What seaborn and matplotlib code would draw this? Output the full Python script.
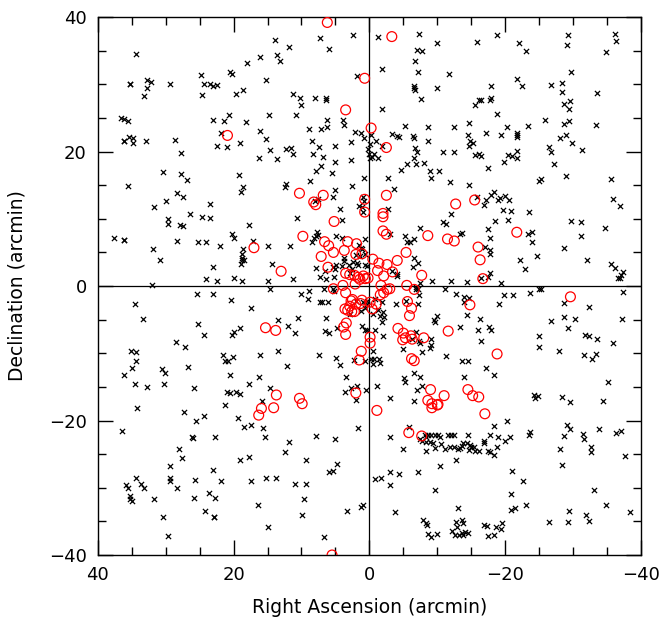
import numpy as np
import pandas as pd
import matplotlib
matplotlib.use("Agg")
import matplotlib.pyplot as plt
import seaborn as sns
from matplotlib.ticker import MultipleLocator

# Field objects (black crosses): RA offset, Dec offset in arcmin
field_ra = [
    13.9, 34.4, 13.6, 13.2, 18.0, 16.1, 20.5, 20.2, 24.8, 15.3, 35.3, 35.2, 32.7, 32.2, 29.3, 24.4,
    23.4, 23.0, 22.5, 32.7, 33.2, 24.7, 19.6, 18.6, 14.8, 36.6, 36.1, 35.6, 23.0, 21.4, 20.7, 18.2,
    16.1, 21.9, 35.4, 34.8, 34.8, 36.2, 36.1, 32.9, 28.6, 15.2, 22.4, 21.0, 19.1, 14.7, 27.8, 16.3,
    13.6, 30.4, 27.8, 26.8, 19.2, 35.5, 18.6, 18.9, 28.3, 27.5, 29.9,
    2.4, -1.3, -7.3, 7.3, 11.9, 6.0, -10.0, -7.0, -7.7, -6.7, -7.1, -1.8, -11.7, 1.8, -6.6, -6.7,
    -6.5, -10.0, -7.6, 11.3, 10.2, 10.1, 8.0, 6.4, 6.4, -1.9, 10.8, 6.2, 3.9, 3.8, 8.9, 7.1,
    6.3, 2.1, 1.2, 0.8, -0.3, -3.3, -4.0, -4.3, -5.2, -8.6, -12.5, -6.4, -6.5, -8.6, 8.5, 2.7,
    -1.0, -1.8, -0.15, 0.15, 0.05, -0.35, -0.05, -1.2, -0.7, 12.3, 11.5, 11.3, 7.4, 5.1, 8.3, 6.9,
    5.0, 2.7, -6.7, -7.0, -6.6, -10.9, -12.5, -5.6, -6.9, -8.0, 7.1, 7.8, 5.5, -4.6, -8.9, -10.2,
    -9.1, -2.7, 0.8, -11.8, 12.3, 12.4, 8.7, 2.6, -3.6, 5.0, 7.6, 8.0, 5.4, 0.8, 1.0,
    -18.8, -15.9, -22.1, -23.1, -29.3, -29.1, -36.1, -36.3, -34.8, -29.7, -21.8, -22.5, -17.9, -26.7,
    -28.3, -28.4, -33.5, -17.9, -17.7, -16.4, -16.1, -15.5, -29.6, -28.6, -29.4, -18.8, -25.8, -14.7,
    -20.2, -23.4, -28.6, -29.4, -33.4, -14.5, -17.2, -19.4, -21.7, -21.8, -21.7, -14.8, -15.2, -14.6,
    -28.9, -28.1, -29.9, -31.3, -26.4, -26.8, -15.5, -16.2, -16.5, -20.4, -21.0, -21.7, -21.8, -19.8,
    -17.5, -27.2, -29.0, -24.9, -25.2, -35.6, -14.6, -35.8, -15.8, -17.2, -17.9, -18.3, -18.9, -19.2,
    -20.0, -20.5,
    31.7, 23.5, 29.6, 29.7, 27.9, 27.4, 26.4, 24.6, 23.5, 17.7, 37.6, 36.1, 36.2, 31.8, 30.8, 28.3,
    25.3, 24.0, 22.0, 20.3, 19.9, 18.6, 18.7, 18.7, 18.9, 18.4, 18.8, 17.1, 15.0, 14.4, 23.0, 24.0,
    22.4, 19.9, 18.7, 14.9, 14.7, 32.0, 25.4, 23.0, 20.4, 17.5, 34.5, 33.4, 25.3, 24.4, 20.0, 20.2,
    19.1, 13.5, 28.5, 27.2, 35.1, 34.4, 34.3, 35.0, 36.2, 30.5, 30.1, 26.7, 21.6, 21.3, 20.8, 20.1,
    20.6, 16.1, 16.3, 13.4,
    1.6, 1.1, 1.0, 4.3, -2.8, 10.6, 4.1, -12.0, -10.8, -11.3, -7.5, 7.7, 7.9, 8.2, 7.6, 4.9,
    8.5, 11.7, 4.0, 0.6, -3.1, -5.2, -5.5, -6.0, -6.5, 1.5, 1.3, 1.1, 0.7, 1.4, 2.0, 3.8,
    3.7, 4.9, 4.1, 3.0, 2.4, 1.9, 1.7, 0.7, 0.4, 7.8, 5.4, 5.1, 6.6, 2.6, 2.8, 7.3,
    6.4, 5.2, 11.2, -6.6, -7.2, -4.0, -4.1, -3.4, -6.4, -9.2, -12.0, -6.8, -7.2, -7.3, -7.4, -6.8,
    -12.8, -11.2, 10.0, 8.9, 9.1, 6.7, 5.3, 5.2, 7.3, 7.0, 6.1, 2.0, 1.0, 0.7, 0.3, 0.4,
    -0.8, -1.8, -1.2, -3.9, -5.4, -7.2, 2.9, 1.3, -0.6, -1.5, -2.0, -2.2, -1.8, 6.4, 10.5, 12.0,
    -9.5, -10.0, -9.6, 4.8, 6.6, 5.9, 11.0, 1.1, 0.7, 0.3, -0.8, -2.0, -6.8, -7.3, -7.5, -9.1,
    -9.1, -8.9, -6.3, -5.0, -7.7, -11.3, 7.4, 12.2, 4.9, 4.3, 2.3, -0.5, -0.2, -0.7, -1.4, -0.5,
    -1.5, 0.7, 3.4, -5.1, -6.6, -7.4,
    -16.8, -36.9, -19.7, -20.8, -23.5, -18.5, -20.4, -29.7, -31.2, -34.7, -31.1, -17.5, -17.8, -13.3,
    -13.6, -23.3, -23.9, -24.0, -17.0, -17.8, -17.8, -28.6, -24.7, -22.2, -22.9, -32.1, -35.6, -36.1,
    -37.4, -37.1, -36.6, -36.9, -17.7, -17.4, -16.4, -14.3, -19.4, -24.9, -25.2, -23.7, -19.8, -21.1,
    -14.0, -14.7, -14.0, -19.1, -28.6, -32.4, -37.3, -14.4, -16.3, -13.4, -26.7, -28.7, -30.3, -29.3,
    -37.2, -17.6, -17.9, -16.0, -16.4, -24.9, -24.9, -31.8, -32.4, -33.5, -35.9, -27.9, -31.6, -33.3,
    -32.8, -13.6, -14.5, -17.2, -18.3, -13.9,
    17.7, 34.5, 32.8, 30.3, 25.9, 14.6, 20.9, 20.6, 19.7, 19.0, 15.8, 21.3, 34.2, 27.3, 24.4, 25.5,
    19.3, 18.4, 17.5, 15.6, 15.4, 36.5, 26.0, 26.1, 22.7, 28.0, 27.6, 19.0, 17.8, 29.3, 23.0, 35.8,
    35.6, 34.4, 33.6, 33.2, 35.3, 35.2, 35.0, 31.7, 29.3, 29.3, 28.4, 25.7, 25.9, 21.9, 23.6, 22.7,
    24.2, 22.9, 22.9, 17.4, 15.3, 13.8, 16.4, 15.0, 30.4, 29.6,
    -5.3, 2.7, 1.9, 3.6, 0.5, 2.0, -1.1, -3.1, -7.7, -7.0, -6.6, -5.9, 1.7, 7.9, 5.0, 11.8,
    12.5, 9.3, 4.7, 6.0, 5.3, 10.9, 9.3, 9.6, 9.9, 6.7, 3.3, 1.2, 1.0, -3.1, -3.1, -3.0,
    -1.7, -0.8, -4.4, -7.1, -4.9, -3.7, -9.7,
    -7.4, -7.8, -8.2, -8.4, -8.6, -9.1, -9.7, -10.1, -10.4, -8.4, -8.9, -9.4, -9.7, -10.5, -8.4, -11.1,
    -11.6, -12.0, -12.4, -11.9, -12.5, -13.1, -10.4, -12.8, -13.1, -7.9, -8.3, -8.5, -8.6, -9.0, -9.9,
    -12.1, -12.7, -12.9, -12.6, -13.2,
    -35.2, -24.3, -24.8, -24.4, -28.4, -29.5, -34.4, -20.2, -18.3, -14.5, -17.8, -19.0, -20.7, -19.9,
    -23.6, -23.5, -29.1, -29.6, -28.7, -31.5, -31.6, -33.8, -36.3, -37.1, -13.3, -13.8, -13.6, -14.3,
    -14.8, -15.0, -15.4, -15.6, -16.1, -16.8, -16.9, -17.4, -17.8, -18.4, -18.8, -14.6, -28.1, -28.3,
    -32.6, -32.7, -37.6, -21.0, -22.6, -20.8, -33.0, -20.8, -21.5, -23.1, -29.4, -34.9, -38.4, -31.9,
    -32.4, -26.4, -29.2, -13.6, -13.8, -13.6, -14.1, -14.5, -13.8, -16.9, -17.3, -17.5, -18.3, -18.6,
    -19.4, -19.5,
]
field_dec = [
    36.6, 34.5, 34.3, 33.5, 33.2, 34.0, 31.8, 31.5, 31.4, 30.7, 30.1, 30.1, 30.6, 30.4, 30.1, 30.1,
    30.1, 29.8, 29.9, 29.4, 28.2, 28.4, 28.5, 29.1, 25.5, 25.0, 24.8, 24.6, 24.7, 24.6, 25.4, 24.4,
    23.1, 22.7, 22.2, 22.0, 21.3, 21.6, 21.6, 21.6, 21.7, 21.8, 20.9, 20.7, 21.3, 20.3, 19.8, 19.1,
    18.9, 16.9, 16.6, 15.8, 16.5, 14.9, 14.8, 14.0, 13.8, 13.2, 12.7,
    37.3, 37.0, 37.5, 36.9, 35.6, 35.3, 36.2, 35.1, 35.0, 33.5, 31.8, 32.3, 31.5, 31.2, 29.7, 29.2,
    29.4, 29.4, 27.8, 28.6, 27.9, 26.9, 27.9, 28.0, 27.6, 26.4, 25.5, 24.7, 24.7, 23.9, 23.4, 23.4,
    23.6, 22.9, 22.7, 22.0, 22.4, 22.6, 22.3, 22.1, 23.8, 23.7, 23.7, 22.3, 22.0, 21.6, 21.6, 21.4,
    21.5, 20.9, 21.1, 20.4, 19.7, 19.2, 19.1, 19.1, 19.7, 20.4, 20.6, 19.7, 20.7, 20.9, 19.6, 19.2,
    18.4, 18.7, 20.5, 20.0, 19.1, 20.0, 19.9, 18.1, 18.1, 18.3, 17.9, 17.1, 16.8, 17.3, 17.1, 17.1,
    16.0, 16.1, 16.1, 15.5, 15.2, 14.7, 15.6, 14.9, 14.5, 14.3, 13.0, 12.7, 13.2, 12.6, 13.2,
    37.3, 36.3, 36.1, 35.0, 37.3, 35.9, 37.5, 36.4, 34.8, 31.8, 30.8, 29.8, 29.8, 29.9,
    30.2, 28.8, 28.7, 28.0, 27.6, 27.6, 27.6, 26.9, 27.5, 27.0, 26.4, 25.6, 24.7, 24.3,
    23.6, 23.8, 24.1, 24.5, 23.9, 22.5, 22.7, 22.5, 22.8, 22.5, 22.1, 21.6, 21.3, 20.8,
    22.5, 22.0, 21.2, 20.3, 20.7, 19.9, 19.5, 19.6, 19.4, 19.5, 19.3, 19.1, 20.1, 18.4,
    17.6, 18.2, 16.4, 15.6, 15.9, 15.9, 15.1, 13.0, 13.3, 12.8, 13.5, 14.0, 12.8, 13.1,
    13.4, 12.8,
    11.8, 12.2, 10.0, 9.3, 9.1, 9.0, 10.7, 10.2, 10.1, 9.1, 7.1, 6.8, 6.9, 5.5, 3.8, 6.7,
    6.6, 6.6, 6.0, 7.8, 7.2, 5.5, 4.8, 4.1, 3.3, 3.8, 3.9, 6.7, 5.9, 3.3, 2.8, 1.0,
    0.7, 1.2, 0.8, 0.8, -0.5, 0.1, -1.2, -1.2, -2.1, -3.3, -2.6, -4.9, -5.6, -7.3, -6.8, -7.3,
    -6.3, -5.0, -8.3, -9.0, -9.6, -9.8, -11.1, -12.2, -13.3, -12.4, -13.0, -12.1, -10.2, -11.2, -11.2, -10.6,
    -13.3, -10.3, -13.6, -9.7,
    11.9, 11.7, 11.0, 11.4, 11.5, 10.1, 9.8, 10.7, 9.5, 9.3, 8.7, 8.0, 7.4, 7.2, 7.6, 7.5,
    6.6, 6.0, 7.1, 7.0, 7.7, 7.5, 6.6, 6.5, 7.0, 6.1, 5.7, 5.5, 4.8, 4.5, 4.6, 4.2,
    3.7, 3.1, 3.0, 3.2, 3.6, 3.5, 3.2, 3.2, 3.0, 2.7, 2.9, 2.6, 2.2, 2.5, 2.0, 1.3,
    1.0, 1.4, 1.1, 4.1, 3.5, 1.8, 1.5, 2.3, 2.9, 0.7, 0.7, -0.5, -0.4, -1.3, 0.5, -0.2,
    -1.2, -0.5, -1.2, -0.7, -1.9, -0.5, -0.5, -0.8, -2.3, -2.3, -2.3, -2.2, -2.4, -3.2, -2.2, -2.7,
    -1.9, -2.4, -3.5, -2.6, -2.2, -2.7, -4.2, -3.7, -4.1, -4.4, -3.8, -4.6, -5.3, -4.7, -4.7, -6.0,
    -5.0, -4.5, -5.4, -6.3, -6.7, -7.0, -7.0, -6.0, -6.5, -6.5, -6.5, -7.4, -6.8, -8.1, -8.4, -7.9,
    -8.7, -9.2, -7.9, -9.4, -9.8, -10.4, -10.3, -11.9, -10.7, -11.7, -11.0, -9.6, -10.9, -10.9, -10.9, -11.6,
    -11.5, -11.2, -13.5, -13.7, -12.9, -13.5,
    12.1, 11.9, 11.3, 11.1, 11.0, 9.7, 9.8, 9.7, 9.5, 8.7, 7.4, 8.5, 7.1, 7.8,
    7.9, 7.7, 8.1, 6.5, 5.8, 5.4, 4.7, 5.7, 4.4, 3.9, 2.6, 3.9, 3.3, 2.7,
    2.1, 1.6, 1.2, 1.2, 2.0, 1.3, 1.2, 0.6, 0.5, -0.4, -0.4, -1.0, -1.3, -1.3,
    -1.7, -1.8, -2.3, -2.7, -2.5, -3.1, -0.9, -4.3, -4.95, -6.1, -5.2, -4.6, -4.9, -6.2,
    -4.95, -6.1, -6.5, -6.6, -8.2, -7.5, -9.1, -7.3, -7.5, -7.9, -8.5, -9.7, -10.3, -10.1,
    -10.9, -11.2, -11.2, -12.2, -13.2, -13.5,
    -14.5, -14.5, -15.0, -14.6, -15.2, -15.1, -15.8, -15.9, -15.7, -16.0, -17.1, -17.7, -18.2, -18.7, -19.3, -20.0,
    -19.6, -21.0, -20.6, -21.1, -22.5, -21.6, -22.6, -22.5, -22.4, -24.3, -25.6, -25.9, -25.4, -26.7, -27.3, -29.6,
    -30.0, -28.6, -29.5, -30.0, -31.3, -31.6, -31.9, -31.6, -28.5, -29.0, -30.0, -28.8, -31.5, -29.0, -30.8, -31.5,
    -33.5, -34.3, -34.4, -29.0, -28.6, -28.5, -32.6, -35.9, -34.4, -37.2,
    -14.3, -15.2, -14.8, -15.7, -15.4, -17.0, -14.9, -16.6, -14.9, -15.5, -17.1, -20.9, -21.1, -22.3, -22.7, -23.2,
    -24.7, -25.9, -26.4, -27.6, -27.5, -29.4, -29.4, -31.6, -34.0, -37.3, -33.5, -32.8, -32.6, -22.4, -27.6, -29.6,
    -28.5, -28.7, -27.9, -27.7, -24.2, -33.6, -30.4,
    -22.8, -23.0, -22.2, -22.5, -22.2, -22.2, -22.2, -22.1, -22.4, -23.2, -23.2, -23.4, -24.1, -23.5, -24.5, -24.2,
    -22.2, -22.2, -22.2, -23.9, -24.0, -24.2, -26.8, -25.8, -33.0, -34.8, -35.3, -35.6, -36.9, -37.3, -36.9,
    -36.5, -35.1, -35.8, -37.1, -37.1,
    -14.3, -16.2, -16.4, -16.7, -16.5, -17.3, -17.1, -20.0, -20.8, -22.2, -22.2, -22.5, -22.4, -23.0,
    -21.7, -22.2, -20.6, -21.3, -22.3, -22.0, -22.8, -21.3, -21.9, -21.6, -24.1, -23.4, -23.8, -23.3,
    -23.7, -23.9, -23.9, -24.5, -24.6, -23.0, -23.3, -24.6, -24.7, -25.1, -23.9, -24.4, -24.3, -26.6,
    -24.0, -24.7, -25.3, -27.5, -29.0, -30.9, -30.4, -33.3, -33.0, -32.5, -33.4, -32.5, -33.6, -34.0,
    -34.9, -35.1, -35.1, -34.8, -35.3, -36.8, -36.6, -36.8, -37.1, -35.5, -35.7, -37.2, -37.1, -35.9,
    -36.2, -35.2,
]

# Cluster members (red open circles)
member_ra = [
    20.9, 6.2, -3.3, 0.7, 3.5, -0.25, -2.5, 10.3, 6.8, 0.7, -2.5, 8.2, -15.5, 17.0, 13.0, 15.3, 13.8,
    7.9, 0.7, -2.0, -2.0, 5.2, -2.0, -2.5, -8.6, -12.7, -11.5, -12.5, 9.8, 6.6, 6.0, 5.3, 7.1, 6.1,
    3.7, 3.2, 1.9, 2.0, 1.1, -0.5, -1.4, -1.2, -2.1, -2.6, -3.4, -5.4, -4.1, -7.7, 3.5, 2.9, 2.2,
    1.7, 0.9, 0.6, 1.4, 0.2, 2.1, 3.9, 5.3, 3.5, -1.7, -2.6, -3.0, -2.1, -1.6, -5.5, -6.6, 2.5,
    1.1, 1.3, 2.0, 2.7, 2.9, -0.1, -1.0, -0.4, 3.2, 2.6, 2.2, 3.6, -5.6, -6.2, -5.9, 3.4, 3.8, 3.5,
    -4.2, -5.0, -4.9, -5.3, -6.1, -6.3, -8.0, -11.6, -0.1, -0.1, 1.2, 1.5, -6.2, -6.6,
    -21.7, -16.0, -16.3, -16.7, -14.8, -29.6, -18.8,
    13.7, 14.1, 15.9, 16.3, 2.0, 10.3, 9.9, -9.0, -11.0, -8.6, -9.2, -9.2, -10.0, -10.1, -1.1,
    -5.8, -7.7, 5.5, -14.5, -15.2, -16.1, -17.0,
]
member_dec = [
    22.4, 39.2, 37.1, 30.9, 26.2, 23.5, 20.6, 13.8, 13.5, 12.9, 13.5, 12.5, 12.8, 5.7, 2.2, -6.2, -6.6,
    12.1, 11.0, 10.8, 10.3, 9.6, 8.2, 7.7, 7.5, 12.2, 7.0, 6.7, 7.4, 6.6, 6.0, 5.0, 4.4, 2.8,
    5.3, 6.6, 6.3, 4.7, 4.8, 4.0, 3.4, 2.3, 1.5, 3.2, 2.1, 5.0, 3.8, 1.6, 1.9, 1.7, 1.6,
    1.3, 1.5, 1.1, 1.0, 1.2, 0.3, 0.1, -0.4, -1.0, 0.1, -0.5, -0.4, -1.0, -1.3, 0.1, -0.5, -2.0,
    -2.1, -2.6, -2.7, -2.2, -3.0, -2.4, -2.7, -3.4, -3.6, -3.8, -3.8, -3.4, -2.3, -3.3, -4.4, -5.5, -6.1, -7.2,
    -6.3, -7.0, -8.0, -7.7, -7.4, -7.9, -7.7, -6.7, -7.6, -8.5, -9.7, -11.0, -10.8, -11.1,
    8.0, 5.8, 3.9, 1.1, -2.8, -1.6, -10.1,
    -16.2, -18.1, -18.2, -19.2, -15.9, -16.7, -17.5, -15.4, -16.3, -17.0, -17.5, -18.1, -17.7, -17.6, -18.5,
    -21.8, -22.3, -40.0, -15.4, -16.3, -16.5, -19.0,
]

field = pd.DataFrame({"ra": field_ra, "dec": field_dec})
members = pd.DataFrame({"ra": member_ra, "dec": member_dec})

sns.set_style("ticks")
plt.rcParams["font.family"] = ["DejaVu Sans"]
plt.rcParams["text.color"] = "black"
plt.rcParams["axes.labelcolor"] = "black"
plt.rcParams["xtick.color"] = "black"
plt.rcParams["ytick.color"] = "black"

fig = plt.figure(figsize=(6.65, 6.19), dpi=100)
ax = fig.add_axes([0.147, 0.1034, 0.817, 0.869])

ax.axhline(0, color="black", lw=0.9, zorder=1)
ax.axvline(0, color="black", lw=0.9, zorder=1)

sns.scatterplot(data=field, x="ra", y="dec", marker="x", color="black",
                s=14, linewidth=0.9, ax=ax, zorder=2)
sns.scatterplot(data=members, x="ra", y="dec", marker="o", facecolor="none",
                edgecolor="red", s=50, linewidth=0.9, ax=ax, zorder=3)

ax.set_xlim(40, -40)
ax.set_ylim(-40, 40)
ax.xaxis.set_major_locator(MultipleLocator(20))
ax.xaxis.set_minor_locator(MultipleLocator(5))
ax.yaxis.set_major_locator(MultipleLocator(20))
ax.yaxis.set_minor_locator(MultipleLocator(5))
ax.tick_params(which="both", direction="in", top=True, right=True, width=1,
               labelsize=13, colors="black")
ax.tick_params(which="major", length=11, pad=8)
ax.tick_params(which="minor", length=5.5)
for sp in ax.spines.values():
    sp.set_linewidth(1)
    sp.set_color("black")

ax.set_xlabel("Right Ascension (arcmin)", fontsize=13.5, labelpad=10, color="black")
ax.set_ylabel("Declination (arcmin)", fontsize=13.5, labelpad=16, color="black")

fig.savefig("out.png", dpi=100)
